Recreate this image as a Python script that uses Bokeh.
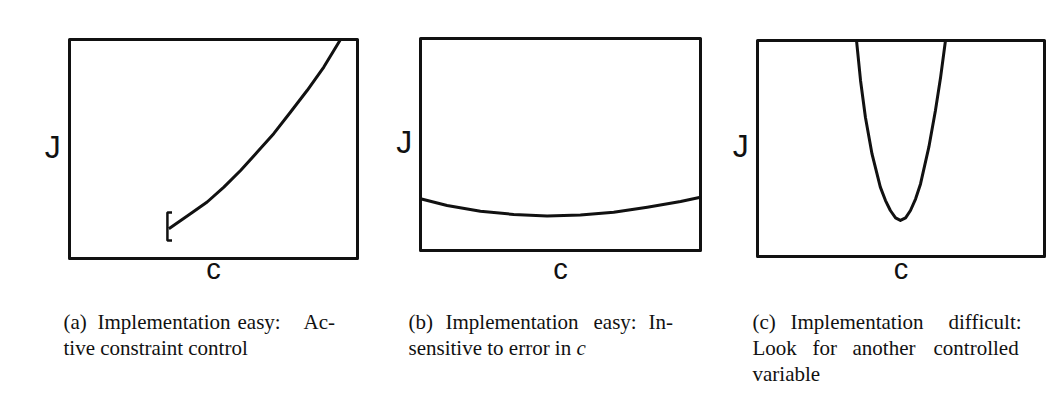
from bokeh.plotting import figure
from bokeh.layouts import row
from bokeh.models import Range1d, Label
from bokeh.embed import file_html
from bokeh.resources import INLINE

# Cost J against controlled variable c, three typical shapes (normalised units)
c_a = [0.345, 0.420, 0.478, 0.536, 0.594, 0.652, 0.709, 0.767, 0.825, 0.883, 0.941]
J_a = [0.136, 0.204, 0.258, 0.326, 0.402, 0.486, 0.570, 0.668, 0.767, 0.874, 1.000]

c_b = [0.000, 0.095, 0.214, 0.333, 0.452, 0.571, 0.690, 0.810, 0.929, 1.000]
J_b = [0.244, 0.212, 0.185, 0.170, 0.163, 0.168, 0.180, 0.204, 0.231, 0.251]

c_c = [0.345, 0.359, 0.376, 0.399, 0.428, 0.446, 0.463, 0.481, 0.498, 0.516, 0.533, 0.551, 0.568, 0.597, 0.620, 0.638, 0.655]
J_c = [1.000, 0.815, 0.645, 0.475, 0.321, 0.259, 0.213, 0.179, 0.167, 0.179, 0.213, 0.267, 0.336, 0.506, 0.676, 0.830, 1.000]

# Constraint on c in case (a): the curve starts at c_a[0]
c_min = c_a[0]

# Captions: each line is a list of (word, left edge in page px); justified lines are spread out
captions = {
    "a": [
        [("(a)", 63), ("Implementation", 97), ("easy:", 237), ("Ac-", 303)],
        [("tive constraint control", 63)],
    ],
    "b": [
        [("(b)", 408), ("Implementation", 445), ("easy:", 593), ("In-", 648)],
        [("sensitive to error in", 408), ("c", 576, "italic")],
    ],
    "c": [
        [("(c)", 752), ("Implementation", 790), ("difficult:", 948)],
        [("Look", 752), ("for", 812), ("another", 852), ("controlled", 933)],
        [("variable", 752)],
    ],
}
caption_baselines = [321, 347, 373]
c_label_baseline = 268

H = 405
# panel geometry: figure width, page offset, box left (in figure), box width, box top, box height
panels = [
    dict(key="a", w=390, off=0,   left=69, fw=288, top=39, fh=219, c=c_a, J=J_a),
    dict(key="b", w=330, off=390, left=30, fw=280, top=38, fh=212, c=c_b, J=J_b),
    dict(key="c", w=329, off=720, left=37, fw=287, top=40, fh=216, c=c_c, J=J_c),
]

INK = "#111111"
SANS = "Liberation Sans"
SERIF = "Liberation Serif"

figs = []
for pn in panels:
    fw, fh, left, top, w = pn["fw"], pn["fh"], pn["left"], pn["top"], pn["w"]
    # the plotting frame fills the whole figure; the ranges put the unit box [0,1]x[0,1] in place
    xr = Range1d(-left / fw, (w - left) / fw)
    yr = Range1d(-(H - top - fh) / fh, 1 + top / fh)
    p = figure(width=w, height=H, output_backend="svg", toolbar_location=None,
               x_range=xr, y_range=yr, x_axis_location=None, y_axis_location=None,
               min_border=0)
    p.grid.grid_line_color = None
    p.outline_line_color = None
    p.background_fill_color = "white"
    p.border_fill_color = "white"

    # axes box
    p.quad(left=[0], right=[1], bottom=[0], top=[1], fill_color=None,
           line_color=INK, line_width=3, line_join="round")

    p.line(pn["c"], pn["J"], line_color=INK, line_width=3, line_join="round", line_cap="butt")

    if pn["key"] == "a":
        bx = c_min - 0.005
        p.line([bx + 0.016, bx, bx, bx + 0.016],
               [pn["J"][0] + 0.074, pn["J"][0] + 0.074, pn["J"][0] - 0.054, pn["J"][0] - 0.054],
               line_color=INK, line_width=2.5)

    frame_left = pn["off"] + left
    frame_bottom = top + fh

    # axis names
    p.add_layout(Label(x=-0.058, y=0.51, text="J", text_font=SANS, text_font_size="32px",
                       text_align="center", text_baseline="alphabetic", text_color=INK))
    p.add_layout(Label(x=0.5, y=(frame_bottom - c_label_baseline) / fh, text="c",
                       text_font=SANS, text_font_size="29px",
                       text_align="center", text_baseline="alphabetic", text_color=INK))

    # caption below the box
    for line, base in zip(captions[pn["key"]], caption_baselines):
        for item in line:
            word, px = item[0], item[1]
            style = item[2] if len(item) > 2 else "normal"
            p.add_layout(Label(x=(px - frame_left) / fw, y=(frame_bottom - base) / fh,
                               text=word, text_font=SERIF, text_font_size="21px",
                               text_font_style=style, text_align="left",
                               text_baseline="alphabetic", text_color=INK))
    figs.append(p)

layout = row(*figs, spacing=0)
open("out.html", "w").write(file_html(layout, INLINE))
